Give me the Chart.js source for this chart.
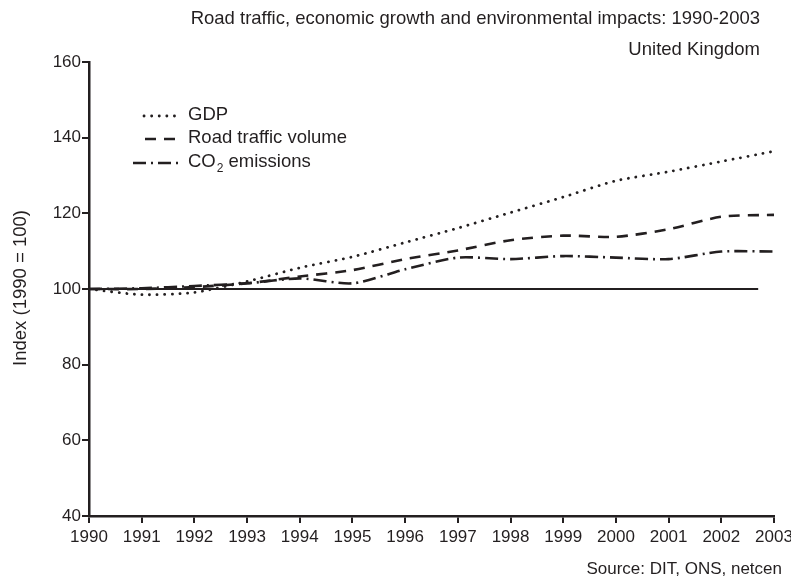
<!DOCTYPE html>
<html>
<head>
<meta charset="utf-8">
<script src="https://cdn.jsdelivr.net/npm/chart.js@4.4.1/dist/chart.umd.min.js"></script>
<style>
  html, body { margin: 0; padding: 0; background: #fff; }
  #wrap { width: 791px; height: 580px; }
</style>
</head>
<body>
<div id="wrap"><canvas id="chart" width="791" height="580"></canvas></div>
<script>
const years = [1990, 1991, 1992, 1993, 1994, 1995, 1996, 1997, 1998, 1999, 2000, 2001, 2002, 2003];
const gdp = [100, 98.5, 99.1, 102, 105.6, 108.5, 112.3, 116.1, 120.2, 124.3, 128.6, 131.0, 133.7, 136.4];
const traffic = [100, 100, 100.5, 101.5, 103.3, 105, 107.9, 110.2, 112.9, 114.1, 113.8, 115.8, 119.1, 119.6];
const co2 = [100, 100.2, 100.8, 101.5, 102.8, 101.5, 105.2, 108.3, 107.9, 108.7, 108.3, 107.9, 109.9, 109.9];
const baseYears = [1990, 2002.7];
const baseValues = [100, 100];
const yTicks = [40, 60, 80, 100, 120, 140, 160];

const ink = '#231f20';
const font = 'Liberation Sans, Arial, sans-serif';

function pts(xs, ys) {
  return xs.map((x, i) => ({ x: x, y: ys[i] }));
}

// legend, titles and axis caption drawn straight onto the canvas
const extras = {
  id: 'extras',
  afterDraw(chart) {
    const ctx = chart.ctx;
    ctx.save();
    ctx.fillStyle = ink;
    ctx.font = '18.5px ' + font;
    ctx.textBaseline = 'middle';

    ctx.textAlign = 'right';
    ctx.fillText('Road traffic, economic growth and environmental impacts: 1990-2003', 760, 19);
    ctx.fillText('United Kingdom', 760, 50);
    ctx.font = '17px ' + font;
    ctx.fillText('Source: DIT, ONS, netcen', 782, 569);

    ctx.font = '18.5px ' + font;
    ctx.save();
    ctx.translate(21, 288);
    ctx.rotate(-Math.PI / 2);
    ctx.textAlign = 'center';
    ctx.fillText('Index (1990 = 100)', 0, 0);
    ctx.restore();

    // legend
    const rows = [
      { ds: chart.data.datasets[0], y: 116, x0: 144, x1: 180 },
      { ds: chart.data.datasets[1], y: 139, x0: 145, x1: 180 },
      { ds: chart.data.datasets[2], y: 163, x0: 133, x1: 180 }
    ];
    rows.forEach(r => {
      ctx.save();
      ctx.strokeStyle = ink;
      ctx.lineWidth = r.ds.borderWidth;
      ctx.lineCap = r.ds.borderCapStyle || 'butt';
      ctx.setLineDash(r.ds.borderDash || []);
      ctx.beginPath();
      ctx.moveTo(r.x0, r.y);
      ctx.lineTo(r.x1, r.y);
      ctx.stroke();
      ctx.restore();
    });
    ctx.textAlign = 'left';
    ctx.fillText('GDP', 188, 115);
    ctx.fillText('Road traffic volume', 188, 138);
    ctx.fillText('CO', 188, 162);
    const w = ctx.measureText('CO').width;
    ctx.font = '12px ' + font;
    ctx.fillText('2', 188 + w + 1, 169);
    const w2 = ctx.measureText('2').width;
    ctx.font = '18.5px ' + font;
    ctx.fillText(' emissions', 188 + w + w2 + 1, 162);
    ctx.restore();
  }
};

new Chart(document.getElementById('chart'), {
  type: 'line',
  data: {
    datasets: [
      { label: 'GDP', data: pts(years, gdp), borderColor: ink, borderWidth: 2.8,
        borderDash: [0.1, 7.5], borderCapStyle: 'round', tension: 0.25, pointRadius: 0 },
      { label: 'Road traffic volume', data: pts(years, traffic), borderColor: ink, borderWidth: 2.6,
        borderDash: [11, 8], tension: 0.25, pointRadius: 0 },
      { label: 'CO2 emissions', data: pts(years, co2), borderColor: ink, borderWidth: 2.6,
        borderDash: [13, 5, 2, 5], tension: 0.25, pointRadius: 0 },
      { label: 'Base', data: pts(baseYears, baseValues), borderColor: ink, borderWidth: 2.2,
        tension: 0, pointRadius: 0 }
    ]
  },
  options: {
    responsive: false,
    animation: false,
    layout: { padding: { left: 0, right: 17, top: 62, bottom: 0 } },
    plugins: { legend: { display: false }, tooltip: { enabled: false } },
    scales: {
      x: {
        type: 'linear', min: 1990, max: 2003,
        afterFit: s => { s.height = 64; s.paddingLeft = 0; s.paddingRight = 0; },
        ticks: { stepSize: 1, color: ink, font: { family: font, size: 17 }, padding: 4,
          maxRotation: 0, autoSkip: false, callback: v => String(v) },
        grid: { drawOnChartArea: false, drawTicks: true, tickLength: 7, color: ink, lineWidth: 2 },
        border: { color: ink, width: 2.5 }
      },
      y: {
        min: 40, max: 160,
        afterFit: s => { s.width = 89; s.paddingTop = 0; s.paddingBottom = 0; },
        afterBuildTicks: s => { s.ticks = yTicks.map(v => ({ value: v })); },
        ticks: { color: ink, font: { family: font, size: 17 }, padding: 1 },
        grid: { drawOnChartArea: false, drawTicks: true, tickLength: 7, color: ink, lineWidth: 2 },
        border: { color: ink, width: 2.5 }
      }
    }
  },
  plugins: [extras]
});
</script>
</body>
</html>
